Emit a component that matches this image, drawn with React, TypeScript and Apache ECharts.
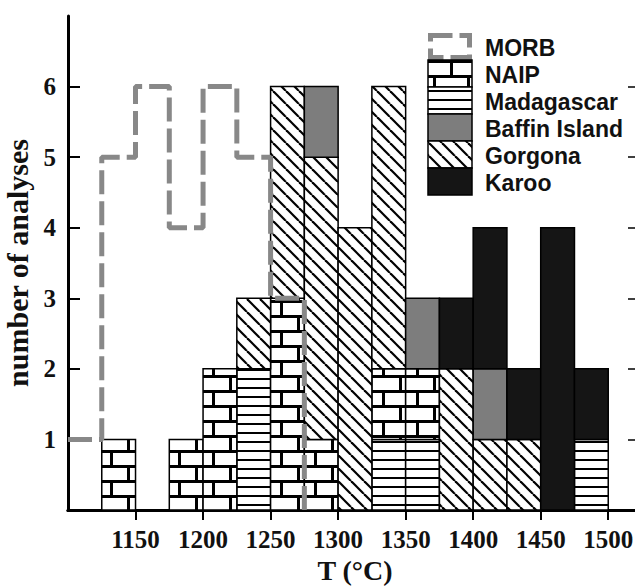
import React, { useEffect, useRef } from 'react';
import * as echarts from 'echarts';

// ---- data ----
const binStarts = [1125, 1150, 1175, 1200, 1225, 1250, 1275, 1300, 1325, 1350, 1375, 1400, 1425, 1450, 1475];
const binWidth = 25;
const madagascar = [0, 0, 0, 0, 2, 0, 0, 0, 1, 1, 0, 0, 0, 0, 1];
const naip = [1, 0, 1, 2, 0, 3, 1, 0, 1, 1, 0, 0, 0, 0, 0];
const gorgona = [0, 0, 0, 0, 1, 3, 4, 4, 4, 0, 2, 1, 1, 0, 0];
const baffin = [0, 0, 0, 0, 0, 0, 1, 0, 0, 1, 0, 1, 0, 0, 0];
const karoo = [0, 0, 0, 0, 0, 0, 0, 0, 0, 0, 1, 2, 1, 4, 1];
const morbEdges = [1100, 1125, 1150, 1175, 1200, 1225, 1250, 1275];
const morbCounts = [1, 5, 6, 4, 6, 5, 3];
const xTickValues = [1150, 1200, 1250, 1300, 1350, 1400, 1450, 1500];
const yTickValues = [1, 2, 3, 4, 5, 6];
const legendNames = ['MORB', 'NAIP', 'Madagascar', 'Baffin Island', 'Gorgona', 'Karoo'];
// stacking order bottom -> top
const stackOrder: { name: string; values: number[] }[] = [
  { name: 'Madagascar', values: madagascar },
  { name: 'NAIP', values: naip },
  { name: 'Gorgona', values: gorgona },
  { name: 'Baffin Island', values: baffin },
  { name: 'Karoo', values: karoo },
];

const SERIF = "'Liberation Serif', 'Times New Roman', serif";
const SANS = "'Liberation Sans', Arial, sans-serif";

function makePattern(w: number, h: number, draw: (ctx: CanvasRenderingContext2D) => void) {
  const c = document.createElement('canvas');
  c.width = w;
  c.height = h;
  const ctx = c.getContext('2d')!;
  ctx.fillStyle = '#ffffff';
  ctx.fillRect(0, 0, w, h);
  draw(ctx);
  return { image: c.toDataURL(), repeat: 'repeat', imageWidth: w, imageHeight: h } as any;
}

export default function App() {
  const ref = useRef<HTMLDivElement>(null);
  useEffect(() => {
    if (!ref.current) return;
    const chart = echarts.init(ref.current, undefined, { renderer: 'svg' });

    const brick = makePattern(34, 30, (ctx) => {
      ctx.fillStyle = '#000';
      ctx.fillRect(0, 0, 34, 3);
      ctx.fillRect(0, 15, 34, 3);
      ctx.fillRect(8, 3, 3, 12);
      ctx.fillRect(25, 18, 3, 12);
    });
    const stripes = makePattern(10, 9, (ctx) => {
      ctx.fillStyle = '#000';
      ctx.fillRect(0, 0, 10, 2);
    });
    const hatch = makePattern(13, 13, (ctx) => {
      ctx.strokeStyle = '#000';
      ctx.lineWidth = 2.2;
      for (const k of [-13, 0, 13]) {
        ctx.beginPath();
        ctx.moveTo(k, 0);
        ctx.lineTo(k + 13, 13);
        ctx.stroke();
      }
    });
    const fills: Record<string, any> = {
      NAIP: brick,
      Madagascar: stripes,
      'Baffin Island': '#7d7d7d',
      Gorgona: hatch,
      Karoo: '#151515',
    };

    const cum = binStarts.map(() => 0);
    const customSeries = stackOrder.map((s) => {
      const data: number[][] = [];
      s.values.forEach((v, i) => {
        if (v > 0) {
          data.push([binStarts[i], binStarts[i] + binWidth, cum[i], cum[i] + v]);
          cum[i] += v;
        }
      });
      const fill = fills[s.name];
      return {
        type: 'custom',
        name: s.name,
        xAxisIndex: 0,
        yAxisIndex: 0,
        encode: { x: [0, 1], y: [2, 3] },
        data,
        z: 2,
        renderItem: (params: any, api: any) => {
          const p0 = api.coord([api.value(0), api.value(2)]);
          const p1 = api.coord([api.value(1), api.value(3)]);
          return {
            type: 'rect',
            shape: { x: p0[0], y: p1[1], width: p1[0] - p0[0], height: p0[1] - p1[1] },
            style: { fill, stroke: '#000', lineWidth: 1.5 },
          };
        },
      };
    });

    const morbData: number[][] = [[morbEdges[0], morbCounts[0]]];
    morbCounts.forEach((c, i) => {
      morbData.push([morbEdges[i], c]);
      morbData.push([morbEdges[i + 1], c]);
    });
    morbData.push([morbEdges[morbEdges.length - 1], 0]);

    // legend (graphic)
    const lgX = 428, lgY = 33, lgW = 44, lgH = 27;
    const legendEls: any[] = [];
    legendNames.forEach((n, i) => {
      const y = lgY + i * lgH;
      if (n === 'MORB') {
        legendEls.push({
          type: 'rect',
          shape: { x: lgX + 2.5, y: y + 2.5, width: lgW - 5, height: lgH - 5 },
          style: { fill: 'none', stroke: '#888', lineWidth: 5, lineDash: [22, 7] },
          z: 10,
        });
      } else {
        legendEls.push({
          type: 'rect',
          shape: { x: lgX, y, width: lgW, height: lgH },
          style: { fill: fills[n], stroke: '#000', lineWidth: 1.5 },
          z: 10,
        });
      }
      legendEls.push({
        type: 'text',
        x: 485,
        y: y + lgH / 2 + 1,
        style: {
          text: n,
          font: `bold 23px ${SANS}`,
          fill: '#111',
          verticalAlign: 'middle',
          textAlign: 'left',
        },
        z: 10,
      });
    });

    const fmt = (v: number) => String(v);

    chart.setOption({
      animation: false,
      backgroundColor: '#fff',
      grid: { left: 68, right: -7, top: 16, bottom: 76, containLabel: false, outerBoundsMode: 'none' },
      xAxis: [
        {
          type: 'value',
          position: 'bottom',
          min: 1100,
          max: 1525,
          name: 'T (°C)',
          nameLocation: 'middle',
          nameGap: 42,
          nameTextStyle: { fontFamily: SERIF, fontWeight: 'bold', fontSize: 28, color: '#111' },
          axisLine: { show: true, lineStyle: { color: '#000', width: 3 } },
          axisTick: { show: true, inside: false, length: 10, lineStyle: { color: '#000', width: 2 }, customValues: xTickValues },
          axisLabel: { customValues: xTickValues, formatter: fmt, margin: 17, fontFamily: SERIF, fontWeight: 'bold', fontSize: 25, color: '#111' },
          splitLine: { show: false },
        },
        {
          type: 'value',
          position: 'top',
          min: 1100,
          max: 1525,
          axisLine: { show: true, lineStyle: { color: '#000', width: 3 } },
          axisTick: { show: false },
          axisLabel: { show: false },
          splitLine: { show: false },
        },
      ],
      yAxis: [
        {
          type: 'value',
          position: 'left',
          min: 0,
          max: 7,
          name: 'number of analyses',
          nameLocation: 'middle',
          nameGap: 30,
          nameTextStyle: { fontFamily: SERIF, fontWeight: 'bold', fontSize: 30, color: '#111' },
          axisLine: { show: true, lineStyle: { color: '#000', width: 3 } },
          axisTick: { show: true, inside: true, length: 12, lineStyle: { color: '#000', width: 2 }, customValues: yTickValues },
          axisLabel: { customValues: yTickValues, formatter: fmt, margin: 12, fontFamily: SERIF, fontWeight: 'bold', fontSize: 25, color: '#111' },
          splitLine: { show: false },
        },
        {
          type: 'value',
          position: 'right',
          min: 0,
          max: 7,
          axisLine: { show: false },
          axisTick: { show: true, inside: true, length: 14, lineStyle: { color: '#000', width: 1.5 }, customValues: yTickValues },
          axisLabel: { show: false },
          splitLine: { show: false },
        },
      ],
      graphic: legendEls,
      series: [
        ...customSeries,
        {
          type: 'line',
          name: 'MORB',
          xAxisIndex: 0,
          yAxisIndex: 0,
          data: morbData,
          symbol: 'none',
          z: 5,
          lineStyle: { color: '#888', width: 5, type: [24, 7] },
        },
      ],
    } as any);
    return () => chart.dispose();
  }, []);
  return <div ref={ref} style={{ position: 'fixed', left: 0, top: 0, width: 635, height: 586 }} />;
}
